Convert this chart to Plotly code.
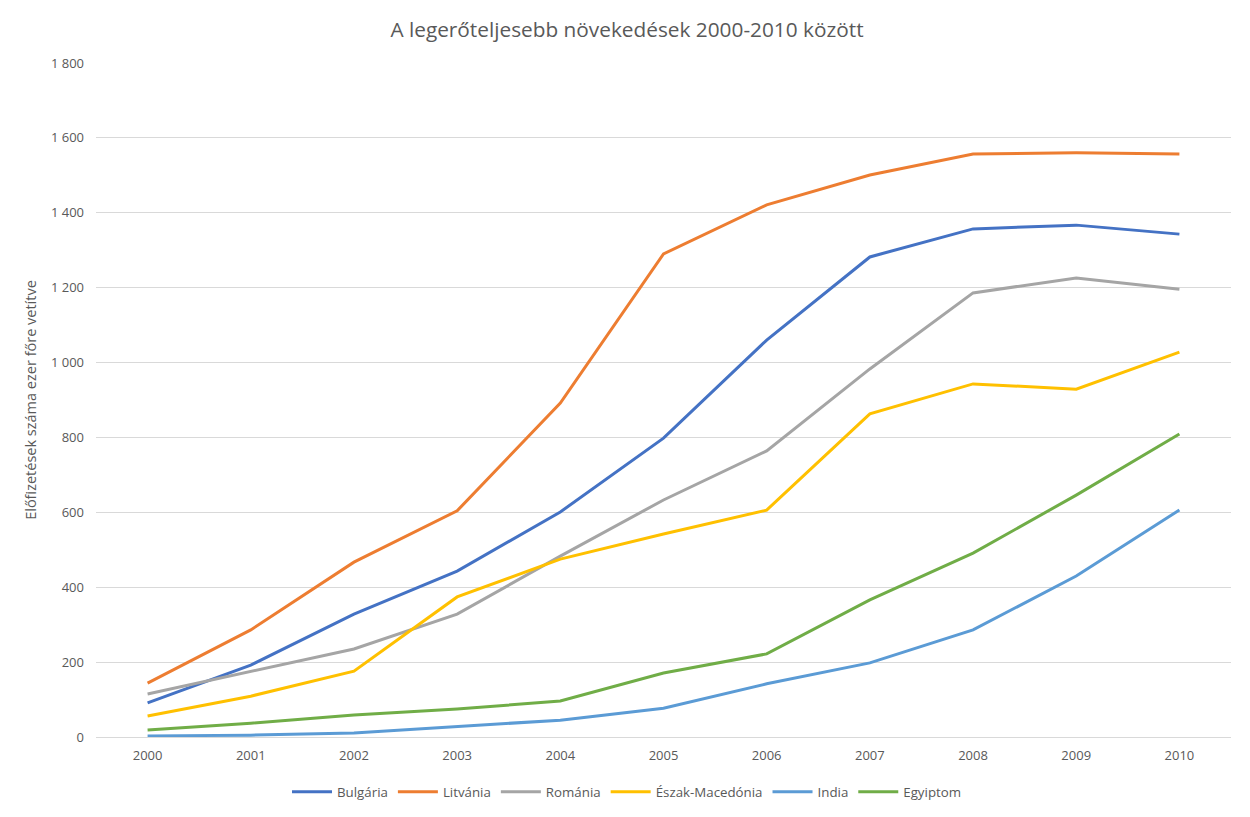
import plotly.graph_objects as go

years = ["2000", "2001", "2002", "2003", "2004", "2005", "2006", "2007", "2008", "2009", "2010"]

bulgaria = [91, 192, 328, 443, 601, 798, 1060, 1282, 1357, 1367, 1343]
litvania = [144, 286, 467, 604, 892, 1290, 1421, 1501, 1557, 1560, 1557]
romania = [115, 176, 235, 328, 483, 633, 764, 983, 1186, 1226, 1196]
eszak_macedonia = [56, 109, 176, 374, 475, 542, 606, 863, 943, 929, 1028]
india = [3, 5, 11, 29, 45, 77, 142, 198, 286, 430, 606]
egyiptom = [19, 37, 59, 75, 96, 171, 222, 366, 491, 646, 809]

series = [
    ("Bulgária", bulgaria, "#4472C4"),
    ("Litvánia", litvania, "#ED7D31"),
    ("Románia", romania, "#A5A5A5"),
    ("Észak-Macedónia", eszak_macedonia, "#FFC000"),
    ("India", india, "#5B9BD5"),
    ("Egyiptom", egyiptom, "#70AD47"),
]

font_family = "Open Sans"
text_color = "#595959"
W, H = 1250, 817

fig = go.Figure()
for name, vals, color in series:
    fig.add_trace(go.Scatter(
        x=years, y=vals, name=name, mode="lines",
        line=dict(color=color, width=3),
    ))

fig.update_layout(
    width=W, height=H,
    paper_bgcolor="white", plot_bgcolor="white",
    margin=dict(l=88, r=27, t=55, b=88, autoexpand=False),
    separators=", ",
    font=dict(family=font_family, size=13, color=text_color),
    title=dict(
        text="A legerőteljesebb növekedések 2000-2010 között",
        x=619 / W, xanchor="center", xref="container", y=1 - 22 / H, yref="container",
        yanchor="middle",
        font=dict(family=font_family, size=20.8, color=text_color),
    ),
    legend=dict(
        orientation="h", x=619 / W, xanchor="center", xref="container",
        y=1 - 784 / H, yref="container", yanchor="middle",
        font=dict(family=font_family, size=13.3, color=text_color),
        itemwidth=40, tracegroupgap=0,
    ),
    xaxis=dict(
        type="category", range=[-0.5, 10.5], automargin=False,
        showgrid=False, showline=True, linecolor="#D9D9D9", linewidth=1,
        ticks="", tickfont=dict(size=13, color=text_color),
        ticklabelstandoff=6,
        zeroline=False,
    ),
    yaxis=dict(
        range=[0, 1800], dtick=200, tickformat=",d", automargin=False,
        showgrid=True, gridcolor="#D9D9D9", gridwidth=1,
        showline=False, zeroline=False, ticks="",
        ticklabelstandoff=11,
        tickfont=dict(size=13, color=text_color),
        title=dict(text="Előfizetések száma ezer főre vetítve",
                   font=dict(size=14.5, color=text_color), standoff=10),
    ),
)

fig.write_html("out.html")
